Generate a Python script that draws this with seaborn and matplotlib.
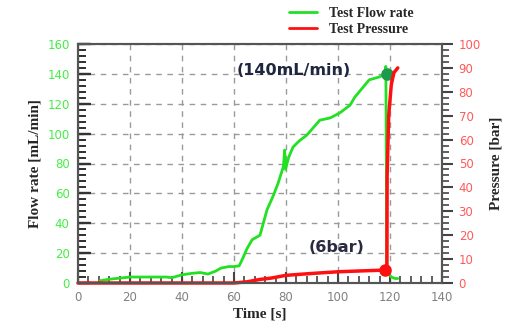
import numpy as np
import pandas as pd
import matplotlib
matplotlib.use("Agg")
import matplotlib.pyplot as plt
import seaborn as sns
from matplotlib.ticker import MultipleLocator
from matplotlib.lines import Line2D

# ---- data ----
flow_time = [8.5, 12, 20, 28, 34, 36, 38, 40, 44, 47, 50, 53, 55, 58, 60, 62, 63.5, 65, 67, 70,
             72.7, 75, 77, 79, 79.5, 79.8, 81, 82.7, 85, 88, 90, 93, 97, 100.8, 104.6, 106.5,
             109.6, 112, 116, 118, 118.4, 118.8, 119.5, 120.5, 122, 123]
flow_rate = [1.5, 2.5, 4, 4, 4, 3.5, 4.5, 5.5, 6.5, 7, 6, 8, 10, 11, 11, 11.5, 17, 23, 29, 32,
             49, 58, 67, 78, 89, 76, 84, 91, 95, 99, 103, 109, 110.5, 114, 119, 124.5,
             131, 136, 138, 140, 145, 10, 6, 4, 3, 3]
pres_time = [0, 60, 65, 70, 74, 80, 90, 100, 110, 118, 118.8, 118.9, 119.5, 120.5, 121.5, 123]
pressure = [0, 0, 0.5, 1.5, 2, 3.2, 4, 4.7, 5.1, 5.4, 5.5, 45, 70, 83, 88, 90]
peak_flow = (118.8, 140)
peak_pres = (118.2, 5.4)
x_ticks = [0, 20, 40, 60, 80, 100, 120, 140]
flow_ticks = [0, 20, 40, 60, 80, 100, 120, 140, 160]
pres_ticks = [0, 10, 20, 30, 40, 50, 60, 70, 80, 90, 100]

GREEN = "#22e022"
RED = "#ff1010"

sns.set_theme(style="ticks")
plt.rcParams['font.family'] = ['DejaVu Sans']
plt.rcParams.update({"xtick.direction": "in", "ytick.direction": "in",
                     "xtick.bottom": True, "ytick.left": True,
                     "xtick.top": False, "ytick.right": False})

fig = plt.figure(figsize=(5.17, 3.30), dpi=100)
ax = fig.add_axes([78/517, 1-283/330, (442-78)/517, (283-44)/330])
ax2 = ax.twinx()

df_f = pd.DataFrame({"t": flow_time, "f": flow_rate})
df_p = pd.DataFrame({"t": pres_time, "p": pressure})

sns.lineplot(data=df_f, x="t", y="f", ax=ax, color=GREEN, lw=2, sort=False, estimator=None)
sns.lineplot(data=df_p, x="t", y="p", ax=ax2, color=RED, lw=2.5, sort=False, estimator=None)
for ln in ax2.get_lines():
    ln.set_clip_on(False)
ax.plot([peak_flow[0]], [peak_flow[1]], 'o', color="#1a9a4a", ms=8, zorder=5)
ax2.plot([peak_pres[0]], [peak_pres[1]], 'o', color=RED, ms=8, zorder=5, clip_on=False)

ax.set_xlim(0, 140)
ax.set_ylim(0, 160)
ax2.set_ylim(0, 100)
ax.set_xticks(x_ticks)
ax.set_yticks(flow_ticks)
ax2.set_yticks(pres_ticks)
ax.xaxis.set_minor_locator(MultipleLocator(4))
ax.yaxis.set_minor_locator(MultipleLocator(4))
ax2.yaxis.set_minor_locator(MultipleLocator(2.5))

ax.grid(True, which="major", color="#9a9a9a", ls=(0, (4, 4)), lw=1)
ax.xaxis.set_tick_params(which="major", direction="in", length=8, width=1.5, color="#444",
                         labelsize=8.5, labelcolor="#808080", pad=6, bottom=True, top=False)
ax.xaxis.set_tick_params(which="minor", direction="in", length=5, width=1.2, color="#444",
                         bottom=True, top=False)
ax2.yaxis.set_tick_params(which="major", direction="out", length=8, width=1.5, color="#444",
                          labelsize=8.5, labelcolor="#ff5a5a", pad=4, right=True, left=False)
ax2.yaxis.set_tick_params(which="minor", direction="out", length=5, width=1.2, color="#444",
                          right=True, left=False)
ax.yaxis.set_tick_params(which="major", direction="in", length=9, width=1.6, color="#333",
                         labelsize=8.5, labelcolor="#44ee44", pad=6, left=True, right=False)
ax.yaxis.set_tick_params(which="minor", direction="in", length=6, width=1.3, color="#333",
                         left=True, right=False)

# reinforce the inward left-axis ticks (drawn in axes-fraction x, data y)
ytr = ax.get_yaxis_transform()
major_y = list(flow_ticks)
minor_y = [v for v in ax.yaxis.get_minorticklocs() if 0 < v < 160 and v not in major_y]
ax.hlines(major_y, 0, 0.033, transform=ytr, colors="#333333", lw=1.6, zorder=6, clip_on=False)
ax.hlines(minor_y, 0, 0.022, transform=ytr, colors="#333333", lw=1.3, zorder=6, clip_on=False)

for a in (ax, ax2):
    for s in a.spines.values():
        s.set_visible(True)
        s.set_color("#555555")
        s.set_linewidth(1.5)
ax.spines["top"].set_color("#777777")

ax.set_xlabel("Time [s]", family="Liberation Serif", weight="bold", fontsize=11, labelpad=2)
ax.set_ylabel("Flow rate [mL/min]", family="Liberation Serif", weight="bold", fontsize=11, labelpad=4)
ax2.set_ylabel("Pressure [bar]", family="Liberation Serif", weight="bold", fontsize=11, labelpad=6)

ax.text(83, 142.5, "(140mL/min)", ha="center", va="center", fontsize=11.5, weight="bold",
        color="#1f2640")
ax.text(99.6, 24, "(6bar)", ha="center", va="center", fontsize=11.5, weight="bold",
        color="#2a2a40")

handles = [Line2D([], [], color=GREEN, lw=2), Line2D([], [], color=RED, lw=2)]
fig.legend(handles, ["Test Flow rate", "Test Pressure"], loc="upper left",
           bbox_to_anchor=(282/517, 1.0), frameon=False, handlelength=2.0, handletextpad=0.9,
           labelspacing=0.2, prop={"family": "Liberation Serif", "weight": "bold", "size": 10},
           borderaxespad=0.1)

fig.savefig("out.png", dpi=100)
